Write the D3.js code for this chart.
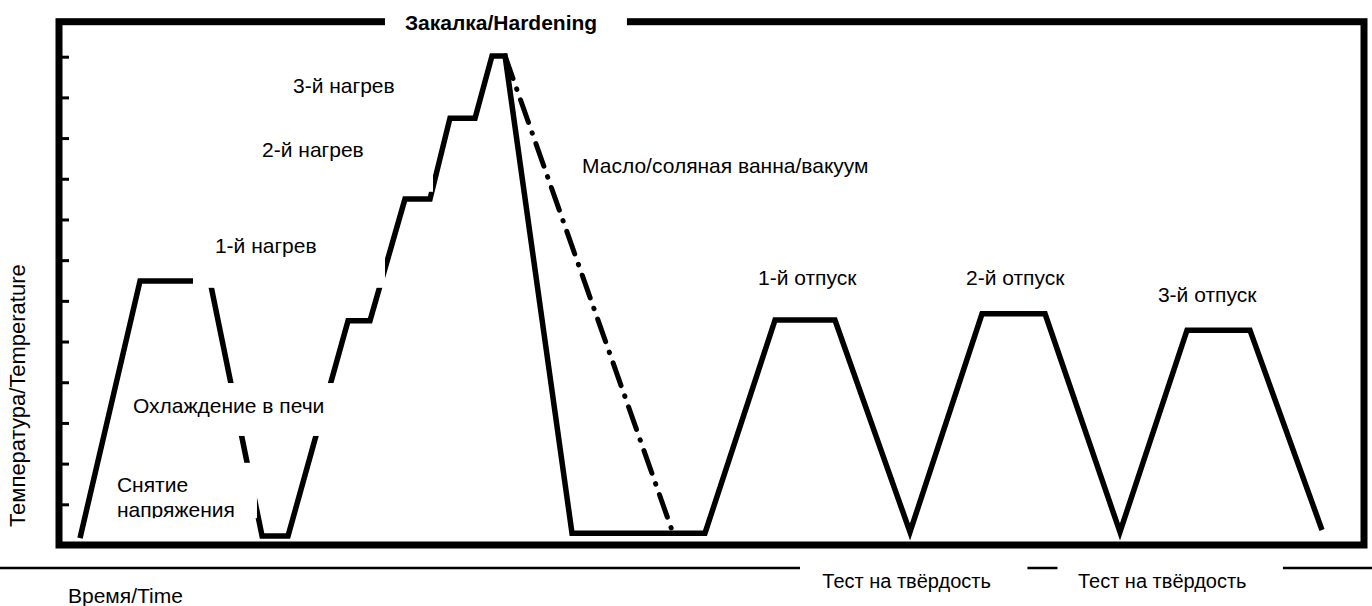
<!DOCTYPE html>
<html>
<head>
<meta charset="utf-8">
<script src="https://cdn.jsdelivr.net/npm/d3@7"></script>
<style>
  html, body { margin: 0; padding: 0; background: #fff; }
  svg { display: block; }
  text { font-family: "Liberation Sans", Arial, sans-serif; fill: #000; }
</style>
</head>
<body>
<svg id="chart" width="1372" height="606"></svg>
<script>
// ---- data (time in arbitrary units, temperature in tick units) ----
const processTime = [1.61, 6.21, 11.57, 15.56, 17.55, 22.15, 23.83, 26.51, 28.43, 29.96, 31.88, 33.18, 34.18, 39.31, 49.50, 54.87, 59.46, 65.21, 70.73, 75.56, 81.30, 86.44, 91.26, 96.78];
const processTemp = [0.17, 6.49, 6.49, 0.22, 0.22, 5.51, 5.51, 8.50, 8.50, 10.49, 10.49, 12.02, 12.02, 0.29, 0.29, 5.53, 5.53, 0.32, 5.68, 5.68, 0.32, 5.28, 5.28, 0.37];
const oilQuenchTime = [34.18, 47.05];
const oilQuenchTemp = [12.02, 0.29];
const tempTicks = [1, 2, 3, 4, 5, 6, 7, 8, 9, 10, 11, 12];

// annotation labels: text lines, anchor (time, temp), cover box [t0, t1, T0, T1]
const labelTexts = ["Закалка/Hardening", "3-й нагрев", "2-й нагрев", "1-й нагрев", "Масло/соляная ванна/вакуум", "Охлаждение в печи", "Снятие|напряжения", "1-й отпуск", "2-й отпуск", "3-й отпуск"];
const labelTime  = [26.51, 17.93, 15.56, 11.95, 40.08, 5.67, 4.44, 53.56, 69.50, 84.21];
const labelTemp  = [12.66, 11.11, 9.54, 7.18, 9.14, 3.24, 1.30, 6.39, 6.39, 5.97];
const coverBoxes = [
  [24.98, 43.52, 12.29, 13.25],
  [17.32, 29.73, 10.64, 11.92],
  [14.64, 28.66, 8.68, 10.44],
  [10.27, 24.98, 6.32, 8.11],
  [39.16, 55.63, 8.72, 9.90],
  [4.70, 21.15, 2.68, 3.98],
  [3.25, 15.17, 0.66, 2.02],
  null, null, null
];
const clipToBox = [false, false, false, false, false, false, true, false, false, false];
// hardness-test timeline below the axis
const testLabels = ["Тест на твёрдость", "Тест на твёрдость"];
const testLabelTime = [58.49, 78.08];
const timelineStart = [-4.6, 74.21, 93.79];
const timelineEnd = [56.78, 76.51, 100.7];
const xTitle = "Время/Time";
const yTitle = "Температура/Temperature";

// ---- scales ----
const svg = d3.select("#chart");
const x = d3.scaleLinear().domain([0, 100]).range([59, 1364]);
const y = d3.scaleLinear().domain([0, 12.86]).range([545, 21.7]);

// ---- process curve ----
const pts = processTime.map((t, i) => [t, processTemp[i]]);
const oil = oilQuenchTime.map((t, i) => [t, oilQuenchTemp[i]]);
const line = d3.line().x(d => x(d[0])).y(d => y(d[1]));

svg.append("path").attr("d", line(pts))
  .attr("fill", "none").attr("stroke", "#000").attr("stroke-width", 5.5)
  .attr("stroke-linejoin", "miter");
svg.append("path").attr("d", line(oil))
  .attr("fill", "none").attr("stroke", "#000").attr("stroke-width", 5)
  .attr("stroke-linecap", "round")
  .attr("stroke-dasharray", "24 11 0.5 11");

// ---- frame and ticks ----
svg.append("rect")
  .attr("x", x.range()[0]).attr("y", y.range()[1])
  .attr("width", x.range()[1] - x.range()[0])
  .attr("height", y.range()[0] - y.range()[1])
  .attr("fill", "none").attr("stroke", "#000").attr("stroke-width", 7);

const yAxis = d3.axisRight(y).tickValues(tempTicks).tickSize(10).tickFormat("");
const ga = svg.append("g").attr("transform", `translate(${x.range()[0]},0)`).call(yAxis);
ga.select(".domain").remove();
ga.selectAll(".tick line").attr("stroke", "#000").attr("stroke-width", 3);

// ---- white cover boxes + labels ----
const defs = svg.append("defs");
labelTexts.forEach((txt, i) => {
  const b = coverBoxes[i];
  if (b) {
    svg.append("rect")
      .attr("x", x(b[0])).attr("y", y(b[3]))
      .attr("width", x(b[1]) - x(b[0])).attr("height", y(b[2]) - y(b[3]))
      .attr("fill", "#fff");
    defs.append("clipPath").attr("id", "clip" + i).append("rect")
      .attr("x", x(b[0])).attr("y", y(b[3]))
      .attr("width", x(b[1]) - x(b[0])).attr("height", y(b[2]) - y(b[3]));
  }
  const t = svg.append("text")
    .attr("x", x(labelTime[i])).attr("y", y(labelTemp[i]))
    .attr("font-size", 21)
    .attr("font-weight", i === 0 ? "bold" : "normal");
  if (b && clipToBox[i]) t.attr("clip-path", `url(#clip${i})`);
  txt.split("|").forEach((part, j) => {
    t.append("tspan").attr("x", x(labelTime[i])).attr("dy", j === 0 ? 0 : 25).text(part);
  });
});

// ---- timeline below ----
const base = y.range()[0];
timelineStart.forEach((s, i) => {
  svg.append("line")
    .attr("x1", x(s)).attr("x2", x(timelineEnd[i]))
    .attr("y1", base + 23).attr("y2", base + 23)
    .attr("stroke", "#000").attr("stroke-width", 2.5);
});
testLabels.forEach((txt, i) => {
  svg.append("text").attr("x", x(testLabelTime[i])).attr("y", base + 43)
    .attr("font-size", 20).text(txt);
});
svg.append("text").attr("x", x(0.69)).attr("y", base + 58)
  .attr("font-size", 21).text(xTitle);
svg.append("text")
  .attr("transform", `translate(25,${y(0.44)}) rotate(-90)`)
  .attr("font-size", 22).text(yTitle);
</script>
</body>
</html>
